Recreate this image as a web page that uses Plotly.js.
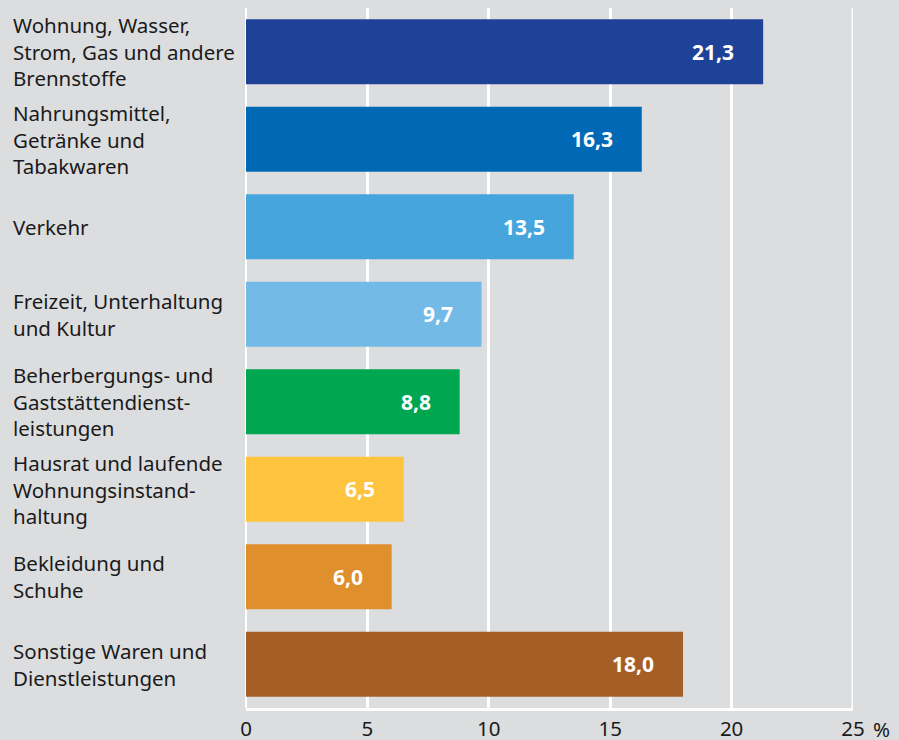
<!DOCTYPE html>
<html lang="de">
<head>
    <meta charset="UTF-8">
    <title>Konsumausgaben</title>
    <script src="https://cdn.plot.ly/plotly-3.0.1.min.js"></script>
    <style>
        html, body { margin: 0; padding: 0; background: #dcdddf; }
        #chart { width: 899px; height: 740px; }
    </style>
</head>
<body>
    <div id="chart"></div>
    <script>
        // Anteile in %, von oben nach unten
        const categories = [
            'Wohnung, Wasser,<br>Strom, Gas und andere<br>Brennstoffe',
            'Nahrungsmittel,<br>Getränke und<br>Tabakwaren',
            'Verkehr',
            'Freizeit, Unterhaltung<br>und Kultur',
            'Beherbergungs- und<br>Gaststättendienst-<br>leistungen',
            'Hausrat und laufende<br>Wohnungsinstand-<br>haltung',
            'Bekleidung und<br>Schuhe',
            'Sonstige Waren und<br>Dienstleistungen'
        ];
        const values = [21.3, 16.3, 13.5, 9.7, 8.8, 6.5, 6.0, 18.0];
        const barColors = ['#1f4299', '#0068b4', '#46a5dd', '#74bae6',
                           '#00a650', '#fec43d', '#df8f2b', '#a65e27'];
        const tickVals = [0, 5, 10, 15, 20, 25];
        const tickLabels = ['0', '5', '10', '15', '20', '25'];

        const font = 'Noto Sans, Open Sans, sans-serif';
        const yKeys = categories.map((c, i) => 'c' + i);
        const xMax = tickVals[tickVals.length - 1];

        const trace = {
            type: 'bar',
            orientation: 'h',
            x: values,
            y: yKeys,
            marker: { color: barColors },
            hoverinfo: 'skip'
        };

        const annotations = [];
        // Kategorie-Beschriftungen links
        categories.forEach((c, i) => {
            annotations.push({
                xref: 'paper', yref: 'y',
                x: -0.387, y: yKeys[i],
                xanchor: 'left', yanchor: 'middle', align: 'left',
                text: c, showarrow: false,
                font: { family: font, size: 20.5, color: '#1a1a1a' }
            });
        });
        // Werte in den Balken
        values.forEach((v, i) => {
            annotations.push({
                xref: 'x', yref: 'y',
                x: v, y: yKeys[i],
                xanchor: 'right', yanchor: 'middle', xshift: -27,
                text: '<b>' + v.toFixed(1).replace('.', ',') + '</b>',
                showarrow: false,
                font: { family: font, size: 21, color: '#ffffff' }
            });
        });
        // Prozentzeichen hinter der 25
        annotations.push({
            xref: 'x', yref: 'paper',
            x: xMax, y: 0, yshift: -21,
            xanchor: 'left', yanchor: 'middle', xshift: 18,
            text: '%', showarrow: false,
            font: { family: font, size: 20.5, color: '#1a1a1a' }
        });

        const layout = {
            width: 899, height: 740,
            margin: { l: 246, r: 46, t: 8, b: 32 },
            paper_bgcolor: '#dcdddf',
            plot_bgcolor: '#dcdddf',
            showlegend: false,
            bargap: 0.258,
            xaxis: {
                range: [0, xMax],
                tickvals: tickVals,
                ticktext: tickLabels,
                showgrid: true, gridcolor: '#ffffff', gridwidth: 3,
                zeroline: true, zerolinecolor: '#ffffff', zerolinewidth: 1.5,
                showline: true, linecolor: '#ffffff', linewidth: 3,
                ticks: '', ticklabelstandoff: 0,
                tickfont: { family: font, size: 20.5, color: '#1a1a1a' },
                fixedrange: true
            },
            yaxis: {
                autorange: 'reversed',
                showticklabels: false,
                showgrid: false, zeroline: false,
                ticks: '', fixedrange: true
            },
            // Gitterlinie am rechten Rand (wird von Plotly an der Kante weggelassen)
            shapes: [{
                type: 'line', layer: 'below',
                xref: 'x', yref: 'paper',
                x0: xMax, x1: xMax, y0: 0, y1: 1,
                line: { color: '#ffffff', width: 3 }
            }],
            annotations: annotations
        };

        Plotly.newPlot('chart', [trace], layout, { displayModeBar: false, staticPlot: true });
    </script>
</body>
</html>
